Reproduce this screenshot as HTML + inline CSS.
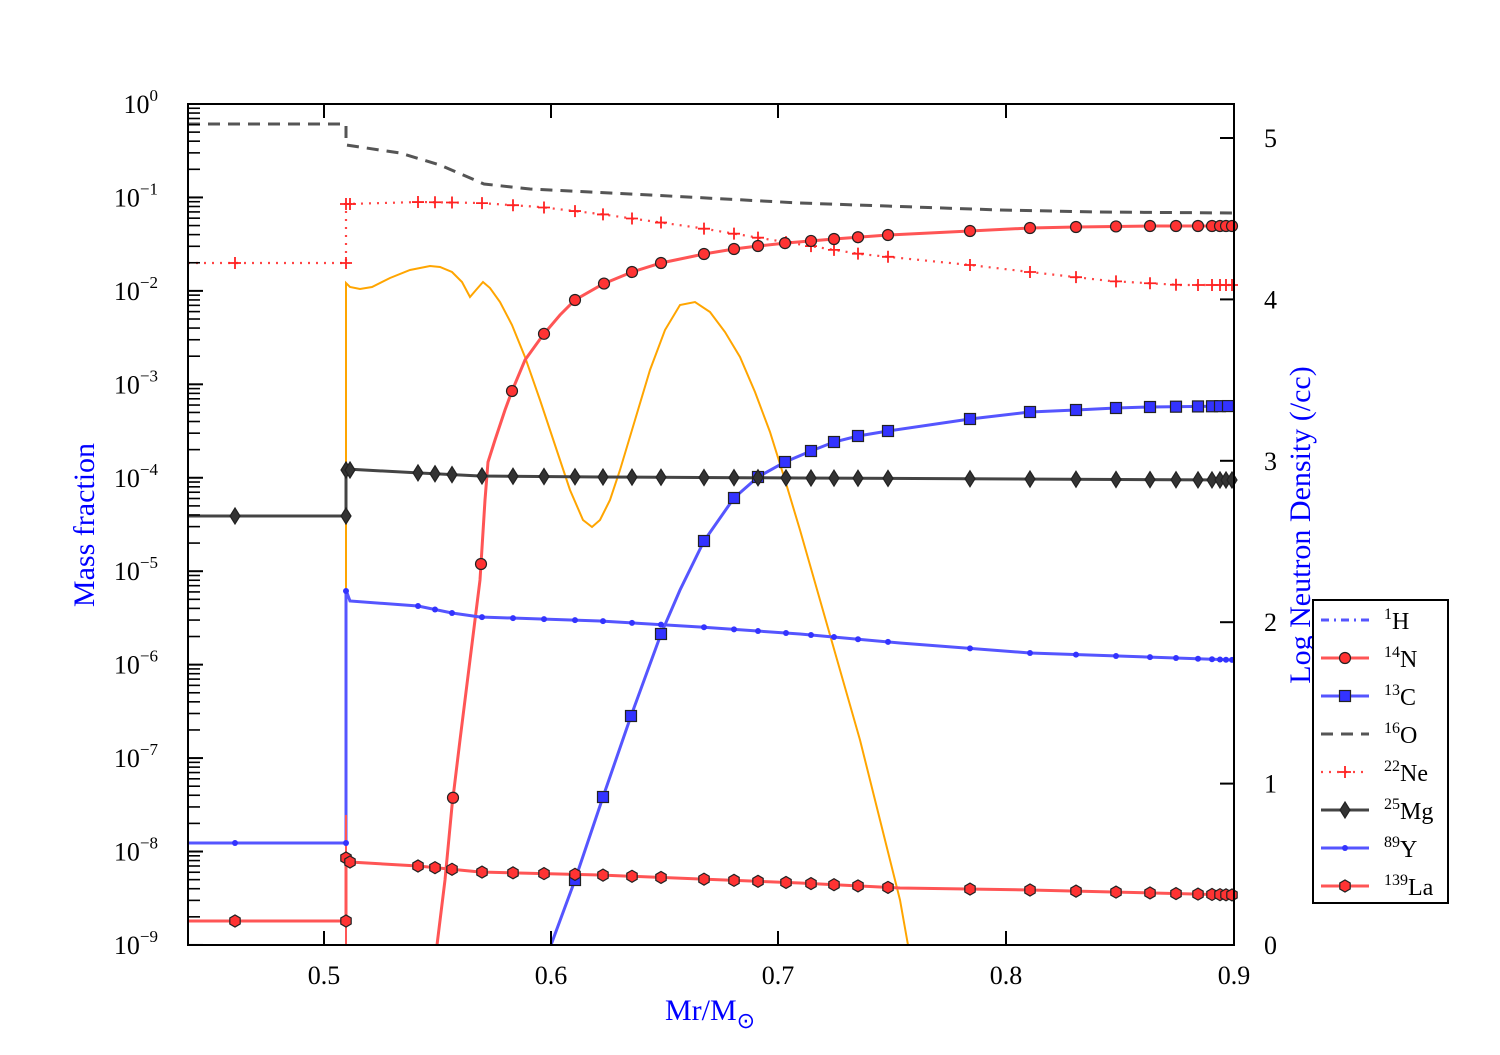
<!DOCTYPE html>
<html><head><meta charset="utf-8"><style>
body{margin:0;background:#fff;}
svg text{font-family:"Liberation Serif",serif;}
</style></head><body>
<svg id="s" width="1500" height="1050" xmlns="http://www.w3.org/2000/svg">
<rect width="1500" height="1050" fill="#fff"/>
<g id="plot"></g>
<g id="axes"></g>
</svg>
<script>
const NS="http://www.w3.org/2000/svg";
const plot=document.getElementById('plot'),axes=document.getElementById('axes');
function el(p,t,a,txt){const e=document.createElementNS(NS,t);for(const k in a)e.setAttribute(k,a[k]);if(txt!=null)e.textContent=txt;p.appendChild(e);return e;}
function pl(pts,a){el(plot,'polyline',Object.assign({points:pts.map(p=>p.join(',')).join(' '),fill:'none'},a));}
function interp(pts,x){for(let i=0;i<pts.length-1;i++){const a=pts[i],b=pts[i+1];if(x>=a[0]&&x<=b[0]&&b[0]!=a[0])return a[1]+(b[1]-a[1])*(x-a[0])/(b[0]-a[0]);}return pts[pts.length-1][1];}
function mk(type,x,y,fill){
 if(type=='o')el(plot,'circle',{cx:x,cy:y,r:5.5,fill:fill,stroke:'#222','stroke-width':1.2});
 else if(type=='s')el(plot,'rect',{x:x-5.5,y:y-5.5,width:11,height:11,fill:fill,stroke:'#222','stroke-width':1.2});
 else if(type=='d')el(plot,'polygon',{points:`${x},${y-8} ${x+5},${y} ${x},${y+8} ${x-5},${y}`,fill:fill,stroke:'#222','stroke-width':1.2});
 else if(type=='.')el(plot,'circle',{cx:x,cy:y,r:3,fill:fill});
 else if(type=='h'){let p=[];for(let i=0;i<6;i++){const a=Math.PI/3*i+Math.PI/6;p.push((x+6*Math.cos(a))+','+(y+6*Math.sin(a)));}el(plot,'polygon',{points:p.join(' '),fill:fill,stroke:'#222','stroke-width':1.2});}
 else if(type=='+'){el(plot,'path',{d:`M${x-6},${y}h12M${x},${y-6}v12`,stroke:fill,'stroke-width':1.8});}
}
const MX=[418,435,452,482,513,544,575,603,632,661,704,734,758,786,811,834,858,888,970,1030,1076,1116,1150,1176,1198,1212,1220,1226,1232];
// Orange neutron density
pl([[346,945],[346,283],[350,287],[360,289],[372,287],[390,278],[410,270],[430,266],[440,267],[452,272],[462,282],[470,297],[476,290],[483,282],[490,288],[500,302],[512,325],[525,357],[540,400],[555,445],[570,490],[583,520],[592,527],[600,520],[610,500],[620,470],[635,420],[650,370],[665,330],[680,305],[695,302],[710,312],[725,332],[740,357],[755,392],[770,432],[785,480],[800,530],[820,600],[840,670],[860,740],[880,820],[900,900],[908,945]],{stroke:'#ffa500','stroke-width':2});
// O16
pl([[188,124],[346,124],[346,145],[400,153],[440,165],[484,184],[530,189],[650,195],[800,203],[1000,210],[1100,212],[1234,213]],{stroke:'#555','stroke-width':3,'stroke-dasharray':'12,8'});
// Ne22
const ne=[[188,263],[346,263],[346,204],[420,202],[480,203],[540,207],[600,214],[650,221],[700,228],[760,238],[860,254],[970,265],[1030,272],[1110,281],[1180,285],[1234,285]];
pl(ne,{stroke:'#ff4444','stroke-width':2.2,'stroke-dasharray':'2,6'});
// N14
const n14=[[437,945],[445,880],[452,806],[460,740],[470,660],[480,580],[485,500],[488,462],[495,440],[505,410],[512,391],[525,360],[543,335],[560,315],[575,300],[603,284],[632,272],[661,263],[704,254],[734,249],[758,246],[786,243],[834,239],[888,235],[970,231],[1030,228],[1076,227],[1150,226],[1234,226]];
pl(n14,{stroke:'#ff5555','stroke-width':3});
// C13
const c13=[[551,945],[575,880],[603,797],[631,716],[661,634],[680,590],[704,541],[734,498],[758,477],[785,462],[811,451],[834,442],[858,436],[888,431],[970,419],[1030,412],[1076,410],[1116,408],[1150,407],[1234,406]];
pl(c13,{stroke:'#5555ff','stroke-width':3});
// Mg25
const mg=[[188,516],[346,516],[346,469],[420,473],[480,476],[600,477],[800,478],[1234,480]];
pl(mg,{stroke:'#444','stroke-width':3});
// Y89
const y89=[[188,843],[346,843],[346,590],[350,601],[418,606],[452,613],[480,617],[600,621],[700,627],[800,634],[900,643],[1030,653],[1234,660]];
pl(y89,{stroke:'#5555ff','stroke-width':3});
// La139
const la=[[188,921],[346,921],[346,858],[350,862],[418,866],[480,872],[600,875],[700,879],[800,883],[900,888],[1030,890],[1234,895]];
pl(la,{stroke:'#ff5555','stroke-width':3});
pl([[346,945],[346,815]],{stroke:'#ff5555','stroke-width':2});
// markers
for(const m of [[235,263],[346,263],[346,204],[350,204]])mk('+',m[0],m[1],'#ff2222');
MX.forEach(x=>mk('+',x,interp(ne,x),'#ff2222'));
[453,481,512,544,575,604,632,661,704,734,758,785,811,834,858,888,970,1030,1076,1116,1150,1176,1198,1212,1220,1226,1232].forEach(x=>mk('o',x,interp(n14,x),'#ff3333'));
[575,603,631,661,704,734,758,785,811,834,858,888,970,1030,1076,1116,1150,1176,1198,1212,1220,1228].forEach(x=>mk('s',x,interp(c13,x),'#3333ff'));
[[235,516],[346,516],[346,470],[350,470]].forEach(m=>mk('d',m[0],m[1],'#333'));
MX.forEach(x=>mk('d',x,interp(mg,x),'#333'));
[[235,843],[346,843],[346,591]].forEach(m=>mk('.',m[0],m[1],'#3333ff'));
MX.forEach(x=>mk('.',x,interp(y89,x),'#3333ff'));
[[235,921],[346,921],[346,858],[350,862]].forEach(m=>mk('h',m[0],m[1],'#ff3333'));
MX.forEach(x=>mk('h',x,interp(la,x),'#ff3333'));
// axes frame
el(axes,'rect',{x:188,y:104,width:1046,height:841,fill:'none',stroke:'#000','stroke-width':2});
// x ticks
[[0.5,324],[0.6,551],[0.7,778],[0.8,1006],[0.9,1234]].forEach(([v,x])=>{
 el(axes,'line',{x1:x,y1:945,x2:x,y2:931,stroke:'#000','stroke-width':2});
 el(axes,'line',{x1:x,y1:104,x2:x,y2:118,stroke:'#000','stroke-width':2});
 el(axes,'text',{x:x,y:984,'font-size':26,'text-anchor':'middle'},String(v));
});
// y log ticks
const D=93.44;
for(let d=0;d<=9;d++){
 const y=104+d*D;
 el(axes,'line',{x1:188,y1:y,x2:203,y2:y,stroke:'#000','stroke-width':2});
 const t=el(axes,'text',{x:158,y:y+9,'font-size':26,'text-anchor':'end'},'10');
 const s=el(t,'tspan',{dy:-12,'font-size':17},d==0?'0':'\u2212'+d);
 if(d<9)for(let k=2;k<=9;k++){const yy=y+D-Math.log10(k)*D;el(axes,'line',{x1:188,y1:yy,x2:200,y2:yy,stroke:'#000','stroke-width':1.6});}
}
// right ticks
for(let v=0;v<=5;v++){const y=945-v*161.4;
 el(axes,'line',{x1:1234,y1:y,x2:1220,y2:y,stroke:'#000','stroke-width':2});
 el(axes,'text',{x:1264,y:y+9,'font-size':26},String(v));}
// labels
el(axes,'text',{x:0,y:0,'font-size':30,fill:'#0000ff','text-anchor':'middle',transform:'translate(94,525) rotate(-90)'},'Mass fraction');
el(axes,'text',{x:0,y:0,'font-size':30,fill:'#0000ff','text-anchor':'middle',transform:'translate(1310,525) rotate(-90)'},'Log Neutron Density (/cc)');
const xl=el(axes,'text',{x:710,y:1020,'font-size':30,fill:'#0000ff','text-anchor':'middle'},'Mr/M');
el(xl,'tspan',{dy:8,'font-size':22},'\u2299');
// legend
el(axes,'rect',{x:1313,y:600,width:135,height:303,fill:'#fff',stroke:'#000','stroke-width':2});
const L=[['1','H','#5555ff','dd',null],['14','N','#ff5555','s','o'],['13','C','#5555ff','s','s'],['16','O','#555','da',null],['22','Ne','#ff4444','do','+'],['25','Mg','#444','s','d'],['89','Y','#5555ff','s','.'],['139','La','#ff5555','s','h']];
L.forEach((e,i)=>{const y=620+i*38;
 const a={x1:1321,y1:y,x2:1369,y2:y,stroke:e[2],'stroke-width':3};
 if(e[3]=='dd')a['stroke-dasharray']='8,5,2,5';
 if(e[3]=='da')a['stroke-dasharray']='12,8';
 if(e[3]=='do'){a['stroke-dasharray']='2,6';a['stroke-width']=2.2;}
 el(axes,'line',a);
 if(e[4]){const save=plot;mkL(e[4],1345,y,e[4]=='+'?'#ff2222':(e[2]=='#444'?'#333':(e[2]=='#5555ff'?'#3333ff':'#ff3333')));}
 const t=el(axes,'text',{x:1384,y:y+9,'font-size':24},'');
 el(t,'tspan',{dy:-10,'font-size':16},e[0]);el(t,'tspan',{dy:10},e[1]);
});
function mkL(t,x,y,f){const p=plot;const g=axes;const old=plot;
 // draw into axes group
 const tmp=document.createElementNS(NS,'g');axes.appendChild(tmp);
 const orig=plot.appendChild;
 mkInto(tmp,t,x,y,f);}
function mkInto(g,type,x,y,fill){
 if(type=='o')el(g,'circle',{cx:x,cy:y,r:5.5,fill:fill,stroke:'#222','stroke-width':1.2});
 else if(type=='s')el(g,'rect',{x:x-5.5,y:y-5.5,width:11,height:11,fill:fill,stroke:'#222','stroke-width':1.2});
 else if(type=='d')el(g,'polygon',{points:`${x},${y-8} ${x+5},${y} ${x},${y+8} ${x-5},${y}`,fill:fill,stroke:'#222','stroke-width':1.2});
 else if(type=='.')el(g,'circle',{cx:x,cy:y,r:3,fill:fill});
 else if(type=='h'){let p=[];for(let i=0;i<6;i++){const a=Math.PI/3*i+Math.PI/6;p.push((x+6*Math.cos(a))+','+(y+6*Math.sin(a)));}el(g,'polygon',{points:p.join(' '),fill:fill,stroke:'#222','stroke-width':1.2});}
 else if(type=='+')el(g,'path',{d:`M${x-6},${y}h12M${x},${y-6}v12`,stroke:fill,'stroke-width':1.8});
}
</script>
</body></html>
